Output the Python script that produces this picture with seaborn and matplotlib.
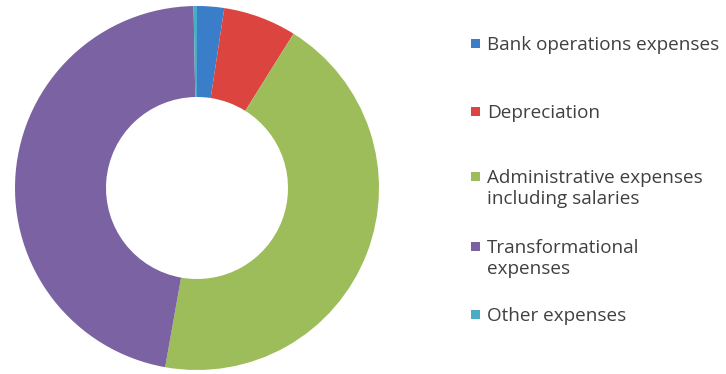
import matplotlib
matplotlib.use("Agg")
import matplotlib.pyplot as plt
import seaborn as sns
from matplotlib.patches import Rectangle

sns.set_theme(style="white")
plt.rcParams['font.family'] = ['Open Sans', 'DejaVu Sans']

categories = ["Bank operations expenses", "Depreciation",
              "Administrative expenses\nincluding salaries",
              "Transformational\nexpenses", "Other expenses"]
shares = [2.4, 6.5, 43.9, 46.9, 0.3]
colors = ["#3a7ec9", "#dc4440", "#9dbd5a", "#7b62a2", "#4bacc6"]

fig = plt.figure(figsize=(7.26, 3.74), dpi=100)
ax = fig.add_axes([15/726, 4/374, 364/726, 364/374])
ax.pie(shares, colors=colors, startangle=90, counterclock=False,
       wedgeprops=dict(width=0.5, linewidth=0))
ax.set_xlim(-1, 1)
ax.set_ylim(-1, 1)

# legend (manual layout to mimic reference)
ys = [43, 111, 176, 246, 314]
for lab, col, y in zip(categories, colors, ys):
    fig.add_artist(Rectangle((471/726, 1 - (y + 4.5)/374), 9/726, 9/374,
                             transform=fig.transFigure, color=col, lw=0))
    fig.text(487/726, 1 - (y - 7)/374, lab, ha="left", va="top",
             fontsize=13.6, color="#404040", linespacing=1.2)

fig.savefig("out.png", dpi=100)
